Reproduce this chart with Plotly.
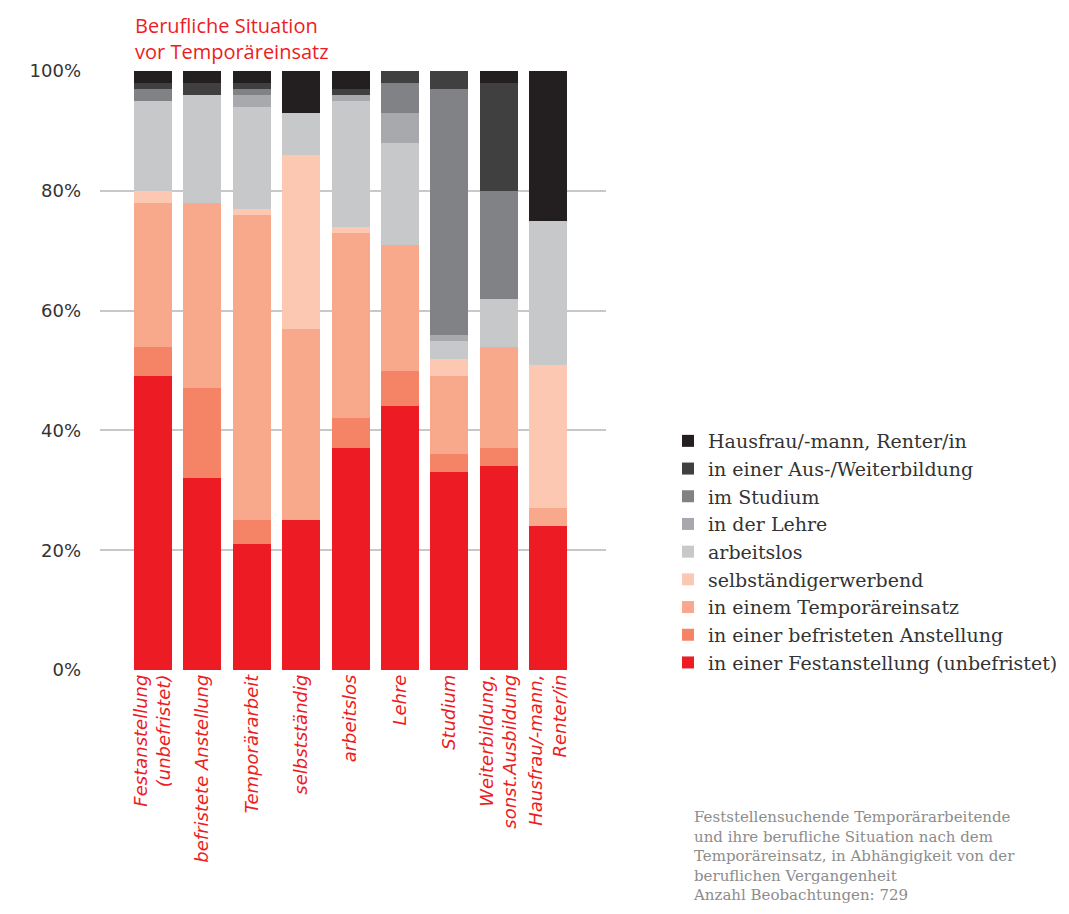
import plotly.graph_objects as go

# Previous occupation (x categories)
categories = [
    "Festanstellung<br>(unbefristet)",
    "befristete Anstellung",
    "Temporärarbeit",
    "selbstständig",
    "arbeitslos",
    "Lehre",
    "Studium",
    "Weiterbildung,<br>sonst.Ausbildung",
    "Hausfrau/-mann,<br>Renter/in",
]

# Situation after the temporary assignment, shares in percent per category
festanstellung = [49, 32, 21, 25, 37, 44, 33, 34, 24]
befristet      = [5, 15, 4, 0, 5, 6, 3, 3, 0]
temporaer      = [24, 31, 51, 32, 31, 21, 13, 17, 3]
selbstaendig   = [2, 0, 1, 29, 1, 0, 3, 0, 24]
arbeitslos     = [15, 18, 17, 7, 21, 17, 3, 8, 24]
lehre          = [0, 0, 2, 0, 1, 5, 1, 0, 0]
studium        = [2, 0, 1, 0, 0, 5, 41, 18, 0]
weiterbildung  = [1, 2, 1, 0, 1, 2, 3, 18, 0]
hausfrau       = [2, 2, 2, 7, 3, 0, 0, 2, 25]

y_ticks = [0, 20, 40, 60, 80, 100]
y_tick_labels = ["0%", "20%", "40%", "60%", "80%", "100%"]

series = [
    ("in einer Festanstellung (unbefristet)", festanstellung, "#ed1c24"),
    ("in einer befristeten Anstellung", befristet, "#f58466"),
    ("in einem Temporäreinsatz", temporaer, "#f8a98b"),
    ("selbständigerwerbend", selbstaendig, "#fcc8b2"),
    ("arbeitslos", arbeitslos, "#c7c8ca"),
    ("in der Lehre", lehre, "#a7a9ac"),
    ("im Studium", studium, "#808285"),
    ("in einer Aus-/Weiterbildung", weiterbildung, "#404041"),
    ("Hausfrau/-mann, Renter/in", hausfrau, "#231f20"),
]

x_idx = list(range(len(categories)))

fig = go.Figure()
for name, values, color in series:
    fig.add_trace(go.Bar(
        x=x_idx,
        y=values,
        name=name,
        marker=dict(color=color, line=dict(width=0)),
        hovertemplate="%{y}%<extra>" + name + "</extra>",
    ))

fig.update_layout(
    barmode="stack",
    bargap=0.23,
    width=1069,
    height=914,
    margin=dict(l=100, r=463, t=71, b=244, autoexpand=False),
    paper_bgcolor="white",
    plot_bgcolor="white",
    font=dict(family="Open Sans", color="#333333"),
    xaxis=dict(
        range=[-1.07, 9.17],
        tickmode="array",
        tickvals=x_idx,
        ticktext=categories,
        tickangle=-90,
        tickfont=dict(family="DejaVu Sans", size=18, color="#ed1c24", style="italic"),
        showgrid=False,
        zeroline=False,
        showline=False,
        ticks="",
        automargin=False,
    ),
    yaxis=dict(
        range=[0, 100],
        tickmode="array",
        tickvals=y_ticks,
        ticktext=y_tick_labels,
        tickfont=dict(family="DejaVu Sans", size=18, color="#333333"),
        ticklabelstandoff=18,
        showgrid=True,
        gridcolor="#c8c8c8",
        gridwidth=1.5,
        zeroline=False,
        showline=False,
        ticks="",
        automargin=False,
    ),
    legend=dict(
        traceorder="reversed",
        xref="container",
        yref="container",
        x=668 / 1069,
        xanchor="left",
        y=1 - 682 / 914,
        yanchor="bottom",
        font=dict(family="DejaVu Serif", size=19, color="#333333"),
        itemsizing="constant",
        tracegroupgap=0,
        bgcolor="rgba(0,0,0,0)",
    ),
    annotations=[
        dict(
            text="Berufliche Situation<br>vor Temporäreinsatz",
            xref="paper", yref="paper",
            x=(133 - 100) / 506, y=1 + (71 - 10) / 599,
            xanchor="left", yanchor="top",
            align="left",
            showarrow=False,
            font=dict(family="Open Sans", size=20, color="#ed1c24"),
        ),
        dict(
            text=("Feststellensuchende Temporärarbeitende<br>"
                  "und ihre berufliche Situation nach dem<br>"
                  "Temporäreinsatz, in Abhängigkeit von der<br>"
                  "beruflichen Vergangenheit<br>"
                  "Anzahl Beobachtungen: 729"),
            xref="paper", yref="paper",
            x=(691 - 100) / 506, y=-(806 - 670) / 599,
            xanchor="left", yanchor="top",
            align="left",
            showarrow=False,
            font=dict(family="DejaVu Serif", size=15, color="#8c8c8c"),
        ),
    ],
)

fig.write_html("out.html")
